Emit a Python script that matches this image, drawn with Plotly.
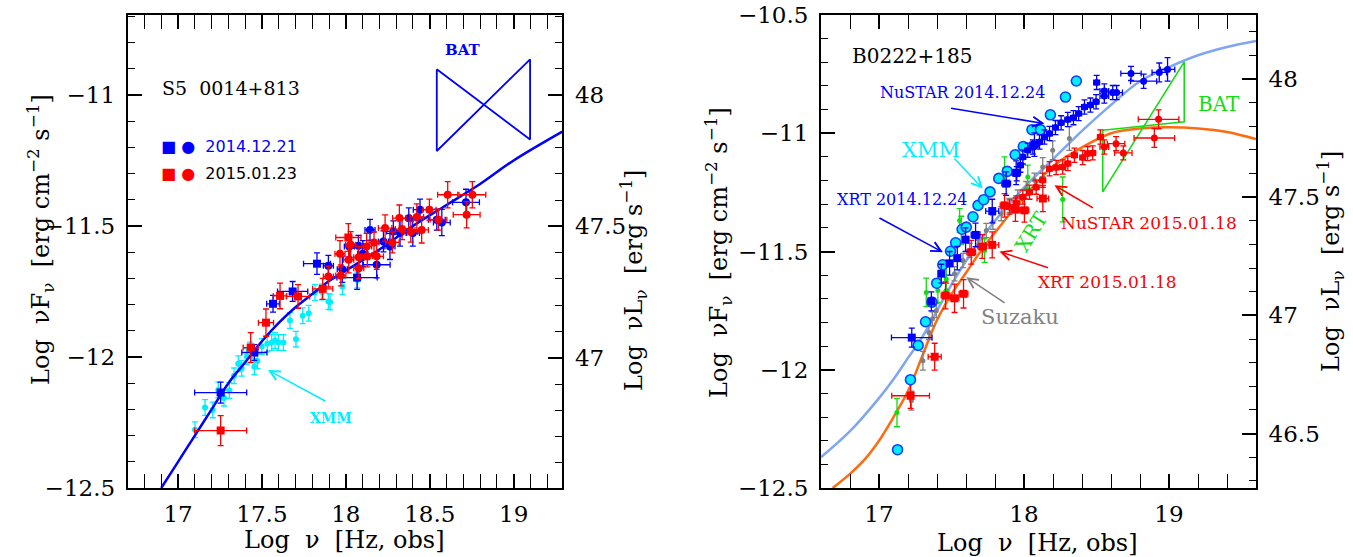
import plotly.graph_objects as go

# ---------------- LEFT PANEL (S5 0014+813) ----------------
L_curve_x = [16.90, 17.0, 17.1, 17.2, 17.3, 17.4, 17.5, 17.6, 17.7, 17.8, 17.9, 18.0, 18.2, 18.4, 18.6, 18.8, 19.0, 19.29]
L_curve_y = [-12.50, -12.40, -12.30, -12.20, -12.10, -12.02, -11.94, -11.87, -11.81, -11.76, -11.71, -11.67, -11.59, -11.50, -11.42, -11.34, -11.25, -11.14]

L_bat_x = [18.542, 19.098, 19.098, 18.542, 18.542]
L_bat_y = [-10.902, -11.170, -10.864, -11.214, -10.902]

L_xrt1_x = [17.254, 17.455, 17.566, 17.683, 17.828, 18.067]
L_xrt1_y = [-12.136, -11.983, -11.797, -11.750, -11.644, -11.697]
L_xrt1_xe = [0.155, 0.075, 0.038, 0.09, 0.08, 0.12]
L_xrt1_ye = [0.04, 0.03, 0.032, 0.038, 0.041, 0.045]

L_xrt2_x = [17.254, 17.433, 17.524, 17.608, 17.715, 17.862, 18.015]
L_xrt2_y = [-12.281, -11.964, -11.869, -11.767, -11.769, -11.740, -11.544]
L_xrt2_xe = [0.155, 0.045, 0.045, 0.04, 0.07, 0.06, 0.075]
L_xrt2_ye = [0.057, 0.057, 0.052, 0.049, 0.045, 0.04, 0.053]

L_nu1_x = [17.896, 17.979, 18.021, 18.075, 18.101, 18.144, 18.184, 18.224, 18.263, 18.283, 18.323, 18.375, 18.399, 18.442, 18.542, 18.572, 18.716]
L_nu1_y = [-11.652, -11.665, -11.578, -11.576, -11.606, -11.515, -11.648, -11.559, -11.578, -11.521, -11.527, -11.471, -11.527, -11.438, -11.476, -11.487, -11.410]
L_nu1_xe = [0.03, 0.03, 0.03, 0.03, 0.03, 0.03, 0.08, 0.03, 0.03, 0.04, 0.04, 0.04, 0.04, 0.04, 0.05, 0.05, 0.08]
L_nu1_ye = [0.04, 0.05, 0.04, 0.04, 0.05, 0.04, 0.05, 0.04, 0.05, 0.04, 0.05, 0.04, 0.05, 0.04, 0.04, 0.05, 0.05]

L_nu2_x = [17.896, 17.965, 17.970, 18.017, 18.029, 18.077, 18.077, 18.124, 18.128, 18.168, 18.184, 18.234, 18.277, 18.319, 18.335, 18.387, 18.423, 18.452, 18.498, 18.552, 18.607, 18.720, 18.754]
L_nu2_y = [-11.693, -11.606, -11.689, -11.629, -11.572, -11.661, -11.619, -11.578, -11.616, -11.563, -11.616, -11.508, -11.563, -11.470, -11.512, -11.522, -11.466, -11.515, -11.438, -11.476, -11.381, -11.457, -11.381]
L_nu2_xe = [0.03, 0.03, 0.03, 0.03, 0.03, 0.03, 0.03, 0.03, 0.03, 0.03, 0.04, 0.04, 0.04, 0.04, 0.04, 0.04, 0.04, 0.04, 0.04, 0.05, 0.06, 0.08, 0.08]
L_nu2_ye = [0.04, 0.05, 0.04, 0.05, 0.05, 0.04, 0.04, 0.05, 0.04, 0.04, 0.05, 0.05, 0.04, 0.05, 0.04, 0.04, 0.05, 0.05, 0.04, 0.04, 0.05, 0.05, 0.05]

L_xmm_x = [17.101, 17.161, 17.207, 17.240, 17.274, 17.306, 17.334, 17.359, 17.379, 17.409, 17.429, 17.455, 17.473, 17.499, 17.532, 17.558, 17.578, 17.598, 17.628, 17.667, 17.703, 17.743, 17.779, 17.816, 17.857, 17.896, 17.906, 17.980, 18.069]
L_xmm_y = [-12.278, -12.193, -12.202, -12.126, -12.157, -12.128, -12.072, -12.026, -12.043, -11.998, -11.973, -12.037, -12.015, -11.960, -11.950, -11.945, -11.937, -11.945, -11.945, -11.861, -11.932, -11.843, -11.833, -11.754, -11.752, -11.788, -11.790, -11.731, -11.706]
L_xmm_ye = [0.03, 0.03, 0.03, 0.03, 0.03, 0.03, 0.03, 0.03, 0.03, 0.03, 0.03, 0.03, 0.03, 0.03, 0.03, 0.03, 0.03, 0.03, 0.03, 0.03, 0.03, 0.03, 0.03, 0.03, 0.03, 0.03, 0.03, 0.03, 0.03]

# ---------------- RIGHT PANEL (B0222+185) ----------------
R_curve1_x = [16.6, 16.8, 17.0, 17.1, 17.2, 17.3, 17.4, 17.5, 17.6, 17.8, 18.0, 18.2, 18.4, 18.6, 18.8, 19.0, 19.2, 19.4, 19.6]
R_curve1_y = [-12.37, -12.26, -12.12, -12.04, -11.95, -11.86, -11.75, -11.64, -11.54, -11.37, -11.23, -11.11, -10.99, -10.88, -10.78, -10.72, -10.67, -10.635, -10.61]

R_curve2_x = [16.68, 16.8, 16.9, 17.0, 17.1, 17.2, 17.3, 17.4, 17.5, 17.6, 17.7, 17.8, 18.0, 18.2, 18.4, 18.6, 18.8, 19.0, 19.2, 19.4, 19.6]
R_curve2_y = [-12.50, -12.44, -12.38, -12.30, -12.20, -12.09, -11.94, -11.79, -11.68, -11.59, -11.50, -11.42, -11.27, -11.14, -11.06, -11.00, -10.98, -10.975, -10.98, -10.995, -11.025]

R_bat_x = [18.543, 19.105, 19.105, 18.543, 18.543]
R_bat_y = [-10.987, -10.952, -10.698, -11.248, -10.987]

R_xmm_x = [17.128, 17.217, 17.270, 17.321, 17.365, 17.398, 17.440, 17.493, 17.529, 17.573, 17.602, 17.648, 17.683, 17.722, 17.766, 17.826, 17.885, 17.939, 17.995, 18.055, 18.114, 18.182, 18.286, 18.361]
R_xmm_y = [-12.338, -12.042, -11.897, -11.797, -11.714, -11.634, -11.556, -11.499, -11.463, -11.406, -11.397, -11.353, -11.305, -11.281, -11.248, -11.191, -11.161, -11.091, -11.056, -10.985, -10.985, -10.922, -10.847, -10.779]

R_xrt1_x = [17.226, 17.361, 17.430, 17.487, 17.540, 17.597, 17.666, 17.781, 17.877, 17.946, 18.072]
R_xrt1_y = [-11.864, -11.711, -11.594, -11.550, -11.528, -11.450, -11.430, -11.329, -11.213, -11.167, -11.048]
R_xrt1_xe = [0.14, 0.02, 0.02, 0.02, 0.02, 0.02, 0.03, 0.045, 0.03, 0.03, 0.03]
R_xrt1_ye = [0.04, 0.04, 0.04, 0.05, 0.05, 0.05, 0.05, 0.05, 0.05, 0.05, 0.05]

R_xrt2_x = [17.218, 17.384, 17.459, 17.521, 17.583, 17.636, 17.712, 17.781, 17.866, 17.941, 18.003, 18.130]
R_xrt2_y = [-12.110, -11.945, -11.686, -11.698, -11.679, -11.503, -11.479, -11.472, -11.305, -11.323, -11.326, -11.276]
R_xrt2_xe = [0.13, 0.045, 0.03, 0.03, 0.03, 0.03, 0.03, 0.045, 0.03, 0.03, 0.03, 0.04]
R_xrt2_ye = [0.053, 0.057, 0.057, 0.06, 0.06, 0.05, 0.05, 0.055, 0.05, 0.05, 0.05, 0.055]

R_nu1_x = [17.950, 17.975, 17.992, 18.026, 18.061, 18.107, 18.141, 18.176, 18.217, 18.256, 18.302, 18.341, 18.377, 18.417, 18.458, 18.497, 18.501, 18.554, 18.554, 18.612, 18.639, 18.738, 18.825, 18.933, 18.990]
R_nu1_y = [-11.171, -11.135, -11.100, -11.072, -11.058, -11.037, -11.016, -11.001, -10.976, -10.956, -10.942, -10.934, -10.917, -10.889, -10.881, -10.867, -10.785, -10.821, -10.843, -10.828, -10.828, -10.747, -10.780, -10.743, -10.730]
R_nu1_xe = [0.02, 0.02, 0.02, 0.02, 0.02, 0.02, 0.02, 0.02, 0.02, 0.02, 0.02, 0.02, 0.02, 0.02, 0.02, 0.02, 0.02, 0.03, 0.03, 0.03, 0.04, 0.07, 0.09, 0.05, 0.05]
R_nu1_ye = [0.03, 0.03, 0.03, 0.03, 0.03, 0.03, 0.03, 0.03, 0.03, 0.03, 0.03, 0.03, 0.03, 0.03, 0.03, 0.03, 0.03, 0.03, 0.03, 0.03, 0.03, 0.03, 0.03, 0.04, 0.05]

R_nu2_x = [17.900, 17.946, 17.992, 18.038, 18.084, 18.129, 18.176, 18.222, 18.267, 18.302, 18.348, 18.405, 18.439, 18.474, 18.527, 18.554, 18.635, 18.685, 18.899, 18.928]
R_nu2_y = [-11.312, -11.295, -11.270, -11.249, -11.228, -11.199, -11.150, -11.145, -11.143, -11.128, -11.093, -11.103, -11.086, -11.083, -11.016, -11.058, -11.044, -11.083, -11.020, -10.941]
R_nu2_xe = [0.02, 0.02, 0.02, 0.02, 0.02, 0.02, 0.02, 0.02, 0.02, 0.02, 0.02, 0.02, 0.02, 0.02, 0.02, 0.03, 0.06, 0.06, 0.14, 0.14]
R_nu2_ye = [0.03, 0.03, 0.03, 0.03, 0.03, 0.03, 0.03, 0.03, 0.03, 0.03, 0.03, 0.03, 0.03, 0.03, 0.03, 0.03, 0.03, 0.03, 0.04, 0.04]

R_suz_x = [17.223, 17.303, 17.344, 17.368, 17.395, 17.464, 17.521, 17.579, 17.625, 17.682, 17.740, 17.785, 17.843, 17.900, 17.957, 18.015, 18.072, 18.129, 18.198, 18.313]
R_suz_y = [-12.131, -11.962, -11.842, -11.785, -11.750, -11.665, -11.594, -11.538, -11.496, -11.446, -11.411, -11.376, -11.340, -11.305, -11.270, -11.234, -11.199, -11.143, -11.072, -11.022]
R_suz_ye = [0.04, 0.04, 0.03, 0.03, 0.03, 0.03, 0.03, 0.03, 0.03, 0.03, 0.03, 0.03, 0.03, 0.03, 0.03, 0.03, 0.03, 0.04, 0.04, 0.05]

R_xrtg_x = [17.124, 17.326, 17.406, 17.464, 17.556, 17.567, 17.728, 17.866, 18.026, 18.267]
R_xrtg_y = [-12.181, -11.673, -11.665, -11.616, -11.369, -11.411, -11.496, -11.150, -11.185, -11.280]
R_xrtg_ye = [0.06, 0.06, 0.05, 0.05, 0.05, 0.06, 0.05, 0.05, 0.05, 0.095]

# offsets between Log nuF_nu and Log nuL_nu
L_OFF = 59.0
R_OFF = 58.77

BLUE = '#0000ff'
RED = '#ff0000'
CYAN = '#00eeff'
GRAY = '#808080'
GREEN = '#11dd11'
SERIF = 'DejaVu Serif'

fig = go.Figure()


def pts(x, y, xa, ya, color, symbol, size, xe=None, ye=None, line=None):
    kw = {}
    if xe is not None:
        kw['error_x'] = dict(type='data', array=xe, color=color, thickness=1.3, width=3)
    if ye is not None:
        kw['error_y'] = dict(type='data', array=ye, color=color, thickness=1.3, width=3)
    mk = dict(color=color, symbol=symbol, size=size)
    if line:
        mk['line'] = line
    fig.add_trace(go.Scatter(x=x, y=y, xaxis=xa, yaxis=ya, mode='markers', marker=mk,
                             showlegend=False, hoverinfo='skip', **kw))


# left panel
pts(L_xmm_x, L_xmm_y, 'x', 'y', CYAN, 'circle', 6, ye=L_xmm_ye)
fig.add_trace(go.Scatter(x=L_curve_x, y=L_curve_y, xaxis='x', yaxis='y', mode='lines',
                         line=dict(color=BLUE, width=2.5, shape='spline'), showlegend=False, hoverinfo='skip'))
fig.add_trace(go.Scatter(x=L_bat_x, y=L_bat_y, xaxis='x', yaxis='y', mode='lines',
                         line=dict(color=BLUE, width=1.8), showlegend=False, hoverinfo='skip'))
pts(L_xrt1_x, L_xrt1_y, 'x', 'y', BLUE, 'square', 8, L_xrt1_xe, L_xrt1_ye)
pts(L_nu1_x, L_nu1_y, 'x', 'y', BLUE, 'circle', 8, L_nu1_xe, L_nu1_ye)
pts(L_xrt2_x, L_xrt2_y, 'x', 'y', RED, 'square', 8, L_xrt2_xe, L_xrt2_ye)
pts(L_nu2_x, L_nu2_y, 'x', 'y', RED, 'circle', 8, L_nu2_xe, L_nu2_ye)
fig.add_trace(go.Scatter(x=[None], y=[None], xaxis='x', yaxis='y2', showlegend=False, hoverinfo='skip'))

# right panel
fig.add_trace(go.Scatter(x=R_curve1_x, y=R_curve1_y, xaxis='x2', yaxis='y3', mode='lines',
                         line=dict(color='#7fa6f2', width=2.5, shape='spline'), showlegend=False, hoverinfo='skip'))
fig.add_trace(go.Scatter(x=R_curve2_x, y=R_curve2_y, xaxis='x2', yaxis='y3', mode='lines',
                         line=dict(color='#ff6a10', width=2.5, shape='spline'), showlegend=False, hoverinfo='skip'))
fig.add_trace(go.Scatter(x=R_bat_x, y=R_bat_y, xaxis='x2', yaxis='y3', mode='lines',
                         line=dict(color=GREEN, width=1.6), showlegend=False, hoverinfo='skip'))
pts(R_suz_x, R_suz_y, 'x2', 'y3', GRAY, 'circle', 5, ye=R_suz_ye)
pts(R_xrtg_x, R_xrtg_y, 'x2', 'y3', GREEN, 'circle', 5, ye=R_xrtg_ye)
pts(R_xrt2_x, R_xrt2_y, 'x2', 'y3', RED, 'square', 8, R_xrt2_xe, R_xrt2_ye)
pts(R_nu2_x, R_nu2_y, 'x2', 'y3', RED, 'circle', 7, R_nu2_xe, R_nu2_ye)
pts(R_xmm_x, R_xmm_y, 'x2', 'y3', CYAN, 'circle', 10, line=dict(color='#1040ff', width=1.6))
pts(R_xrt1_x, R_xrt1_y, 'x2', 'y3', BLUE, 'square', 8, R_xrt1_xe, R_xrt1_ye)
pts(R_nu1_x, R_nu1_y, 'x2', 'y3', BLUE, 'circle', 7, R_nu1_xe, R_nu1_ye)
fig.add_trace(go.Scatter(x=[None], y=[None], xaxis='x2', yaxis='y4', showlegend=False, hoverinfo='skip'))

W, H = 1353, 557
yd = [1 - 488 / H, 1 - 15 / H]
xdL = [127.7 / W, 562.3 / W]
xdR = [821.0 / W, 1256.0 / W]

tickfont = dict(family=SERIF, size=23, color='black')


def ax(rng, dtick, mdtick, **kw):
    d = dict(range=rng, dtick=dtick, tick0=0, showline=True, linewidth=2, linecolor='black',
             ticks='inside', ticklen=14, tickwidth=1.5, tickcolor='black', showgrid=False,
             zeroline=False, tickfont=tickfont, automargin=False,
             minor=dict(dtick=mdtick, tick0=0, ticks='inside', ticklen=7, tickwidth=1.2,
                        tickcolor='black', showgrid=False))
    d.update(kw)
    return d


fig.update_layout(
    template='none',
    width=W, height=H, autosize=False, margin=dict(l=0, r=0, t=0, b=0, pad=0),
    paper_bgcolor='white', plot_bgcolor='white', showlegend=False,
    xaxis=ax([16.70, 19.29], 0.5, 0.1, domain=xdL, anchor='y', mirror='allticks', ticklabelstandoff=4),
    yaxis=ax([-12.5, -10.695], 0.5, 0.1, domain=yd, anchor='x', mirror=True, ticklabelstandoff=6),
    yaxis2=ax([-12.5 + L_OFF + 0.004, -10.695 + L_OFF], 0.5, 0.1, overlaying='y', side='right',
              anchor='x', ticklabelstandoff=6),
    xaxis2=ax([16.6, 19.6], 1, 0.2, domain=xdR, anchor='y3', mirror='allticks', ticklabelstandoff=4,
              minor=dict(dtick=0.2, tick0=0, ticks='inside', ticklen=12, tickwidth=1.2,
                         tickcolor='black', showgrid=False)),
    yaxis3=ax([-12.5, -10.5], 0.5, 0.1, domain=yd, anchor='x2', mirror=True, ticklabelstandoff=6),
    yaxis4=ax([-12.5 + R_OFF, -10.5 + R_OFF], 0.5, 0.1, overlaying='y3', side='right',
              anchor='x2', ticklabelstandoff=6),
)

ann = []


def txt(x, y, t, color, size, xr='x', yr='y', xanchor='left', bold=False, angle=0, family=SERIF):
    ann.append(dict(x=x, y=y, xref=xr, yref=yr, text=('<b>%s</b>' % t) if bold else t,
                    showarrow=False, xanchor=xanchor, yanchor='middle', textangle=angle,
                    font=dict(family=family, size=size, color=color)))


def arrow(x0, y0, x1, y1, color, xr='x', yr='y'):
    ann.append(dict(x=x1, y=y1, ax=x0, ay=y0, xref=xr, yref=yr, axref=xr, ayref=yr, text='',
                    showarrow=True, arrowhead=5, arrowsize=1.3, arrowwidth=1.5, arrowcolor=color))


# left panel texts
txt(16.891, -10.972, 'S5  0014+813', 'black', 19)
txt(18.58, -10.827, 'BAT', BLUE, 15, bold=True)
txt(16.885, -11.197, '<span style="color:#0000ff">■ ●  2014.12.21</span>', BLUE, 16, family='DejaVu Sans')
txt(16.885, -11.298, '<span style="color:#ff0000">■ ●</span>  2015.01.23', 'black', 16, family='DejaVu Sans')
txt(17.914, -12.233, 'XMM', CYAN, 14, xanchor='center', bold=True)
arrow(17.888, -12.172, 17.536, -12.05, CYAN)

# right panel texts
txt(16.80, -10.675, 'B0222+185', 'black', 20, 'x2', 'y3')
txt(16.993, -10.829, 'NuSTAR 2014.12.24', BLUE, 16, 'x2', 'y3')
arrow(17.487, -10.893, 18.141, -10.959, BLUE, 'x2', 'y3')
txt(17.36, -11.072, 'XMM', CYAN, 21, 'x2', 'y3', xanchor='center')
arrow(17.51, -11.10, 17.716, -11.234, CYAN, 'x2', 'y3')
txt(16.695, -11.281, 'XRT 2014.12.24', BLUE, 16, 'x2', 'y3')
arrow(16.993, -11.355, 17.441, -11.503, BLUE, 'x2', 'y3')
txt(18.24, -11.38, 'NuSTAR 2015.01.18', RED, 17, 'x2', 'y3')
arrow(18.486, -11.319, 18.21, -11.22, RED, 'x2', 'y3')
txt(18.084, -11.627, 'XRT 2015.01.18', RED, 17, 'x2', 'y3')
arrow(18.176, -11.571, 17.831, -11.50, RED, 'x2', 'y3')
txt(17.689, -11.775, 'Suzaku', GRAY, 21, 'x2', 'y3')
arrow(17.877, -11.722, 17.602, -11.609, GRAY, 'x2', 'y3')
txt(19.342, -10.877, 'BAT', GREEN, 20, 'x2', 'y3', xanchor='center')
txt(18.049, -11.417, 'XRT', GREEN, 20, 'x2', 'y3', xanchor='center', angle=-58)

# axis titles
tf = 24


def title(x, y, t, angle=0):
    ann.append(dict(x=x, y=y, xref='paper', yref='paper', text=t, showarrow=False,
                    xanchor='center', yanchor='middle', textangle=angle,
                    font=dict(family=SERIF, size=tf, color='black')))


title(40 / W, 1 - 240 / H, 'Log  νF<sub>ν</sub>  [erg cm<sup>−2</sup> s<sup>−1</sup>]', -90)
title(344 / W, 1 - 540 / H, 'Log  ν  [Hz, obs]')
title(633 / W, 1 - 281 / H, 'Log  νL<sub>ν</sub>  [erg s<sup>−1</sup>]', -90)
title(718 / W, 1 - 253 / H, 'Log  νF<sub>ν</sub>  [erg cm<sup>−2</sup> s<sup>−1</sup>]', -90)
title(1037 / W, 1 - 543 / H, 'Log  ν  [Hz, obs]')
title(1331 / W, 1 - 262 / H, 'Log  νL<sub>ν</sub>  [erg s<sup>−1</sup>]', -90)

fig.update_layout(annotations=ann)
fig.write_html('out.html', config={'displayModeBar': False},
               post_script="document.body.style.margin='0px';document.body.style.overflow='hidden';")
